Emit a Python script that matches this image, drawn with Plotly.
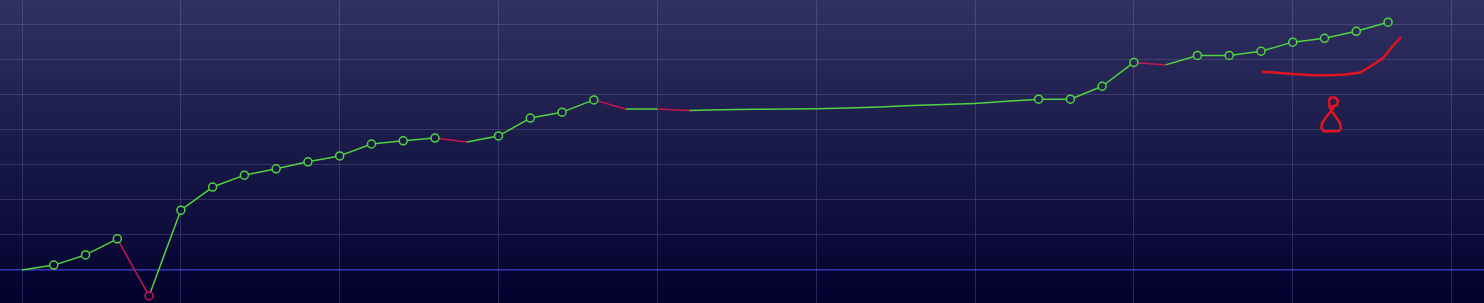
import plotly.graph_objects as go

# ---- data ----
periods = list(range(44))
values = [0.0, 1.4, 4.3, 8.9, -7.4, 17.1, 23.7, 27.1, 28.9, 30.9,
          32.6, 36.0, 36.9, 37.7, 36.6, 38.3, 43.4, 45.1, 48.6, 46.0,
          46.0, 45.6, 45.8, 45.9, 46.0, 46.1, 46.3, 46.6, 47.0, 47.3,
          47.6, 48.2, 48.8, 48.8, 52.5, 59.3, 58.6, 61.3, 61.3, 62.5,
          65.1, 66.2, 68.2, 70.8]
has_marker = [False, True, True, True, True, True, True, True, True, True,
              True, True, True, True, False, True, True, True, True, False,
              False, False, False, False, False, False, False, False, False, False,
              False, False, True, True, True, True, False, True, True, True,
              True, True, True, True]
baseline_value = 0

# hand-drawn annotation strokes (pixel coords in the 1484x303 canvas)
stroke_curve = [(1262, 71.7), (1275, 72.5), (1293, 74), (1313, 75.3), (1330, 75.3),
                (1345, 74.5), (1360, 72.5), (1372, 65.5), (1383, 58), (1392, 47), (1401, 37)]
stroke_glyph = [(1331, 107), (1337, 105), (1338, 100.5), (1335, 97.5), (1330.5, 97.5),
                (1329, 101), (1329.5, 107), (1331.5, 111), (1336, 117), (1340, 123),
                (1340.8, 128.5), (1339, 131), (1324, 131.5), (1321.5, 128), (1322, 123),
                (1327, 116), (1332, 110), (1334, 107)]

W, H = 1484, 303
GREEN = "#4fd53f"
RED = "#c81650"
TOP = (49, 50, 98)
BOT = (2, 1, 46)

X_RANGE = [-0.6925, 46.02]
Y_RANGE = [-9.43, 77.14]


def bg_at(frac):
    c = [round(TOP[k] + (BOT[k] - TOP[k]) * frac) for k in range(3)]
    return "rgb(%d,%d,%d)" % tuple(c)


fig = go.Figure()

# up / down segments
gx, gy, rx, ry = [], [], [], []
for i in range(1, len(values)):
    if values[i] < values[i - 1]:
        rx += [periods[i - 1], periods[i], None]
        ry += [values[i - 1], values[i], None]
    else:
        gx += [periods[i - 1], periods[i], None]
        gy += [values[i - 1], values[i], None]

fig.add_trace(go.Scatter(x=gx, y=gy, mode="lines", line=dict(color=GREEN, width=1.5),
                         hoverinfo="skip", showlegend=False))
fig.add_trace(go.Scatter(x=rx, y=ry, mode="lines", line=dict(color=RED, width=1.5),
                         hoverinfo="skip", showlegend=False))

# markers
mx, my, mline, mfill = [], [], [], []
for i, (p, v) in enumerate(zip(periods, values)):
    if not has_marker[i]:
        continue
    mx.append(p)
    my.append(v)
    down = i > 0 and v < values[i - 1]
    mline.append(RED if down else GREEN)
    frac = (Y_RANGE[1] - v) / (Y_RANGE[1] - Y_RANGE[0])
    mfill.append(bg_at(frac))

fig.add_trace(go.Scatter(x=mx, y=my, mode="markers",
                         marker=dict(size=8, color=mfill, line=dict(color=mline, width=1.5)),
                         showlegend=False))

shapes = []
# gradient background bands
N = 101
for k in range(N):
    y0 = 1 - k / N
    y1 = 1 - (k + 1) / N
    shapes.append(dict(type="rect", xref="paper", yref="paper", x0=0, x1=1,
                       y0=y1, y1=y0 + 0.002, layer="below", line=dict(width=0),
                       fillcolor=bg_at((k + 0.5) / N)))

# blue baseline
shapes.append(dict(type="line", xref="paper", yref="y", x0=0, x1=1,
                   y0=baseline_value, y1=baseline_value, layer="between",
                   line=dict(color="#3434e8", width=1.2)))


def to_path(pts):
    s = ""
    for j, (px, py) in enumerate(pts):
        s += ("M" if j == 0 else "L") + "%.5f,%.5f " % (px / W, 1 - py / H)
    return s.strip()


for stroke in (stroke_curve, stroke_glyph):
    shapes.append(dict(type="path", xref="paper", yref="paper", path=to_path(stroke),
                       line=dict(color="#e3141f", width=2.5), layer="above"))

fig.update_layout(
    width=W, height=H,
    margin=dict(l=0, r=0, t=0, b=0),
    paper_bgcolor="rgb(20,20,60)",
    plot_bgcolor="rgb(20,20,60)",
    shapes=shapes,
    showlegend=False,
    xaxis=dict(range=X_RANGE, tick0=0, dtick=5, showgrid=True,
               gridcolor="rgba(140,140,200,0.25)", gridwidth=1,
               zeroline=False, showticklabels=False, ticks="", fixedrange=True),
    yaxis=dict(range=Y_RANGE, tick0=0, dtick=10, showgrid=True,
               gridcolor="rgba(140,140,200,0.25)", gridwidth=1,
               zeroline=False, showticklabels=False, ticks="", fixedrange=True),
)

fig.write_html("out.html", config={"displayModeBar": False})
